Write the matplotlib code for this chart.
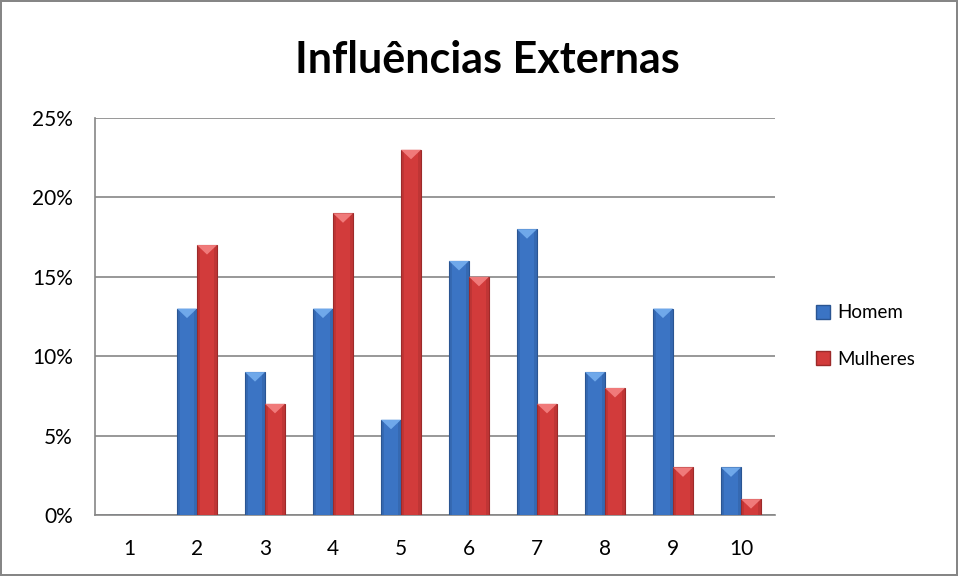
import matplotlib
matplotlib.use("Agg")
from matplotlib import pyplot as plt
import matplotlib.patches as patches
import numpy as np

categories = ['1', '2', '3', '4', '5', '6', '7', '8', '9', '10']
homem = [0, 13, 9, 13, 6, 16, 18, 9, 13, 3]
mulheres = [0, 17, 7, 19, 23, 15, 7, 8, 3, 1]
y_ticks = [0, 5, 10, 15, 20, 25]

plt.rcParams['font.family'] = ['Lato', 'DejaVu Sans']

blue = '#3b74c4'
blue_edge = '#2a5592'
blue_light = '#6fa8ea'
red = '#d23b3b'
red_edge = '#9c2a2a'
red_light = '#f07a7a'

fig = plt.figure(figsize=(9.58, 5.76), dpi=100)
fig.patch.set_edgecolor('#868686')
fig.patch.set_linewidth(1.5)
ax = fig.add_axes([95 / 958, 1 - 515 / 576, 680 / 958, 397 / 576])

x = np.arange(len(categories))
w = 0.294


def bevel_bars(xs, vals, face, edge, light):
    bars = ax.bar(xs, vals, w, color=face, edgecolor=edge, linewidth=0.8, zorder=3)
    for b, v in zip(bars, vals):
        if v <= 0:
            continue
        x0 = b.get_x()
        bw = b.get_width()
        # darker side strips for a rounded look
        ax.add_patch(patches.Rectangle((x0, 0), bw * 0.15, v, facecolor=edge, alpha=0.35,
                                       linewidth=0, zorder=4))
        ax.add_patch(patches.Rectangle((x0 + bw * 0.85, 0), bw * 0.15, v, facecolor=edge, alpha=0.35,
                                       linewidth=0, zorder=4))
        # light triangle at the top
        h = min(0.6, v)
        tri = patches.Polygon([(x0, v), (x0 + bw, v), (x0 + bw / 2, v - h)], closed=True,
                              facecolor=light, edgecolor='none', zorder=5)
        ax.add_patch(tri)
    return bars


bevel_bars(x - w / 2, homem, blue, blue_edge, blue_light)
bevel_bars(x + w / 2, mulheres, red, red_edge, red_light)

ax.set_xlim(-0.5, len(categories) - 0.5)
ax.set_ylim(0, 25)
ax.set_yticks(y_ticks)
ax.set_yticklabels([f'{t}%' for t in y_ticks])
ax.set_xticks(x)
ax.set_xticklabels(categories)
ax.tick_params(axis='both', length=0, labelsize=15, colors='black')
ax.tick_params(axis='y', pad=16)
ax.tick_params(axis='x', pad=17)
ax.yaxis.grid(True, color='#868686', linewidth=1.2, zorder=0)
for s in ['top', 'right']:
    ax.spines[s].set_visible(False)
for s in ['left', 'bottom']:
    ax.spines[s].set_color('#868686')
    ax.spines[s].set_linewidth(1.2)

fig.text(487 / 958, 1 - 60 / 576, 'Influências Externas', ha='center', va='center',
         fontsize=31, fontweight='bold')

handles = [patches.Patch(facecolor=blue, edgecolor=blue_edge, label='Homem'),
           patches.Patch(facecolor=red, edgecolor=red_edge, label='Mulheres')]
fig.legend(handles=handles, loc='center left', bbox_to_anchor=(799 / 958, 1 - 336 / 576),
           frameon=False, fontsize=13.5, handlelength=0.75, handleheight=0.75,
           handletextpad=0.4, labelspacing=1.55)

fig.savefig('out.png', dpi=100)
